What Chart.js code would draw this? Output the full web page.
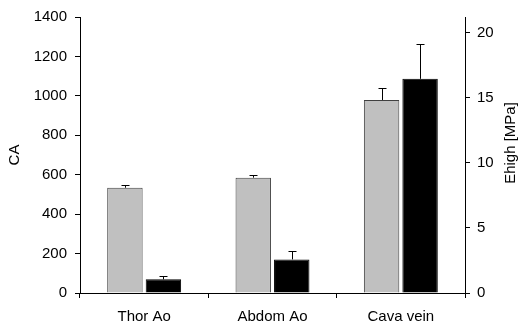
<!DOCTYPE html>
<html>
<head>
<meta charset="utf-8">
<script src="https://cdn.jsdelivr.net/npm/chart.js@4"></script>
<style>
  html, body { margin: 0; padding: 0; background: #fff; }
  #wrap { width: 519px; height: 326px; }
</style>
</head>
<body>
<div id="wrap"><canvas id="chart" width="519" height="326"></canvas></div>
<script>
const categories = ['Thor Ao', 'Abdom Ao', 'Cava vein'];
const caValues = [534, 585, 979];
const caErrTop = [549, 600, 1038];
const ehighValues = [1.05, 2.58, 16.45];
const ehighErrTop = [1.28, 3.2, 19.15];
const leftTicks = [0, 200, 400, 600, 800, 1000, 1200, 1400];
const rightTicks = [0, 5, 10, 15, 20];

const FONT = { family: 'Liberation Sans, Arial, sans-serif', size: 15 };

// draw the upper error whiskers from the error arrays
const errorBars = {
  id: 'errorBars',
  afterDatasetsDraw(chart) {
    const ctx = chart.ctx;
    const tops = [caErrTop, ehighErrTop];
    ctx.save();
    ctx.strokeStyle = '#000';
    ctx.lineWidth = 1;
    chart.data.datasets.forEach((ds, di) => {
      const meta = chart.getDatasetMeta(di);
      const scale = chart.scales[ds.yAxisID];
      meta.data.forEach((bar, i) => {
        const x = Math.round(bar.x) + 0.5;
        const yTop = Math.round(scale.getPixelForValue(tops[di][i])) + 0.5;
        ctx.beginPath();
        ctx.moveTo(x, bar.y);
        ctx.lineTo(x, yTop);
        ctx.moveTo(x - 4, yTop);
        ctx.lineTo(x + 4, yTop);
        ctx.stroke();
      });
    });
    ctx.restore();
  }
};

// right axis title reads bottom-to-top
const rightTitle = {
  id: 'rightTitle',
  afterDraw(chart) {
    const ctx = chart.ctx;
    ctx.save();
    ctx.translate(511, 143);
    ctx.rotate(-Math.PI / 2);
    ctx.font = FONT.size + 'px ' + FONT.family;
    ctx.fillStyle = '#000';
    ctx.textAlign = 'center';
    ctx.textBaseline = 'middle';
    ctx.fillText('Ehigh [MPa]', 0, 0);
    ctx.restore();
  }
};

new Chart(document.getElementById('chart'), {
  type: 'bar',
  data: {
    labels: categories,
    datasets: [
      { label: 'CA', data: caValues, yAxisID: 'y', backgroundColor: '#c0c0c0', borderColor: '#404040', borderWidth: 1,
        categoryPercentage: 0.6, barPercentage: 0.92 },
      { label: 'Ehigh', data: ehighValues, yAxisID: 'y1', backgroundColor: '#000', borderColor: '#000', borderWidth: 1,
        categoryPercentage: 0.6, barPercentage: 0.92 }
    ]
  },
  options: {
    responsive: false,
    animation: false,
    layout: { padding: { top: 16, left: 0, right: 0, bottom: 0 } },
    plugins: { legend: { display: false }, tooltip: { enabled: false } },
    scales: {
      x: {
        offset: true,
        grid: { display: true, offset: true, drawOnChartArea: false, drawTicks: true, tickLength: 5, color: '#000' },
        border: { color: '#000' },
        ticks: { color: '#000', font: FONT, padding: 10 },
        afterFit: s => { s.height = 33; }
      },
      y: {
        position: 'left',
        min: 0, max: 1400,
        afterBuildTicks: s => { s.ticks = leftTicks.map(v => ({ value: v })); },
        grid: { drawOnChartArea: false, drawTicks: true, tickLength: 5, color: '#000' },
        border: { color: '#000' },
        ticks: { color: '#000', font: FONT, padding: 8, callback: v => String(v) },
        title: { display: true, text: 'CA', color: '#000', font: FONT, padding: { top: 6, bottom: 0 } },
        afterFit: s => { s.width = 80; }
      },
      y1: {
        position: 'right',
        min: 0, max: 21.2,
        afterBuildTicks: s => { s.ticks = rightTicks.map(v => ({ value: v })); },
        grid: { drawOnChartArea: false, drawTicks: true, tickLength: 5, color: '#000' },
        border: { color: '#000' },
        ticks: { color: '#000', font: FONT, padding: 7, callback: v => String(v) },
        afterFit: s => { s.width = 54; }
      }
    }
  },
  plugins: [errorBars, rightTitle]
});
</script>
</body>
</html>
